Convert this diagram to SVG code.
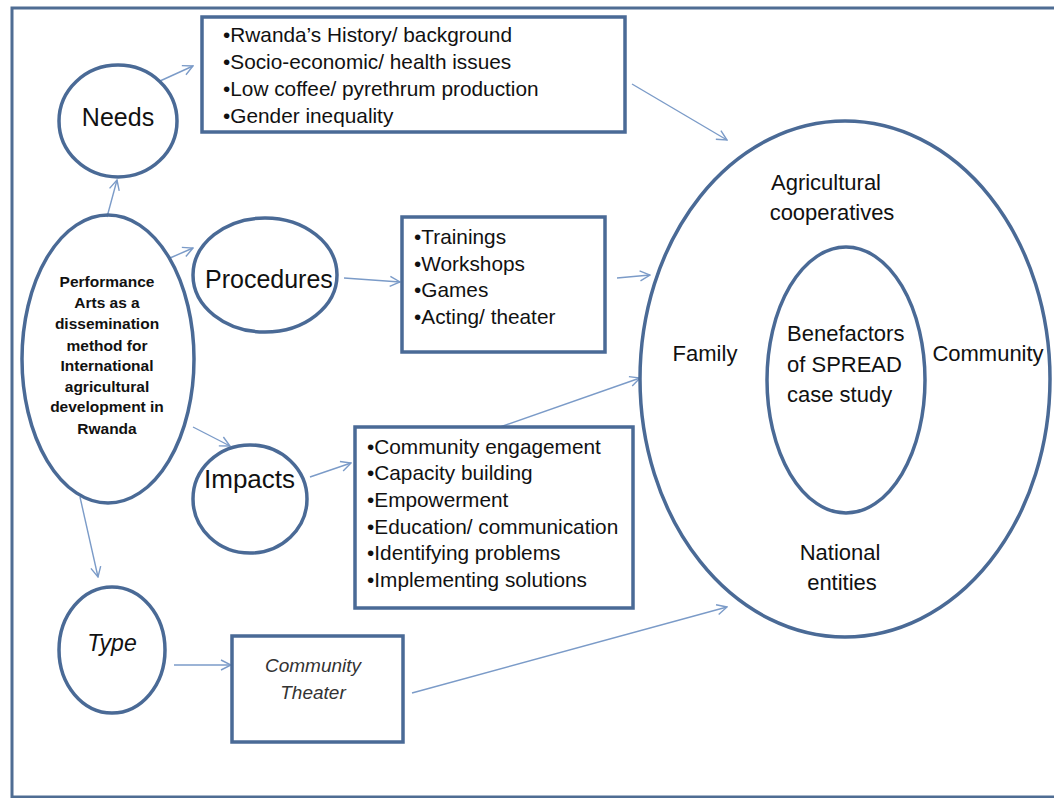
<svg xmlns="http://www.w3.org/2000/svg" width="1054" height="798" viewBox="0 0 1054 798">
<defs>
<marker id="arr" viewBox="0 0 12 12" refX="11" refY="6" markerWidth="12" markerHeight="12" markerUnits="userSpaceOnUse" orient="auto">
<path d="M1,1 L11,6 L1,11" fill="none" stroke="#7b9bc8" stroke-width="1.4"/>
</marker>
<style>
.shape{fill:none;stroke:#4a6a96;stroke-width:3.5}
.conn{fill:none;stroke:#7b9bc8;stroke-width:1.4;marker-end:url(#arr)}
.t{font-family:"Liberation Sans",Arial,sans-serif;fill:#111}
.list{font-size:20.8px}
.big{font-size:22px}
.main{font-size:15.5px;font-weight:bold;text-anchor:middle}
.it{font-style:italic;fill:#333}
.c{text-anchor:middle}
</style>
</defs>
<rect width="1054" height="798" fill="#ffffff"/>
<rect x="12" y="8" width="1060" height="789" fill="none" stroke="#4f6d93" stroke-width="3"/>

<g id="connectors">
<line class="conn" x1="160" y1="81" x2="193" y2="66"/>
<line class="conn" x1="107" y1="217" x2="117" y2="180"/>
<line class="conn" x1="170" y1="258" x2="193" y2="248"/>
<line class="conn" x1="344" y1="278" x2="400" y2="282"/>
<line class="conn" x1="193" y1="427" x2="230" y2="446"/>
<line class="conn" x1="310" y1="477" x2="351" y2="463"/>
<line class="conn" x1="632" y1="84" x2="727" y2="140"/>
<line class="conn" x1="617" y1="278" x2="650" y2="275"/>
<line class="conn" x1="500" y1="427" x2="640" y2="378"/>
<line class="conn" x1="80" y1="497" x2="98" y2="577"/>
<line class="conn" x1="174" y1="665" x2="231" y2="665"/>
<line class="conn" x1="412" y1="693" x2="727" y2="607"/>
</g>

<g id="needs">
<ellipse class="shape" cx="118" cy="121" rx="59" ry="56"/>
<text class="t c" x="118" y="126" font-size="25">Needs</text>
</g>

<g id="needs-box">
<rect class="shape" x="202" y="17" width="423" height="115"/>
<text class="t list" x="223" y="42">•Rwanda’s History/ background</text>
<text class="t list" x="223" y="69">•Socio-economic/ health issues</text>
<text class="t list" x="223" y="96">•Low coffee/ pyrethrum production</text>
<text class="t list" x="223" y="123">•Gender inequality</text>
</g>

<g id="performance-arts">
<ellipse class="shape" cx="108" cy="359" rx="86" ry="144"/>
<text class="t main" x="107" y="287">Performance</text>
<text class="t main" x="107" y="308">Arts as a</text>
<text class="t main" x="107" y="329">dissemination</text>
<text class="t main" x="107" y="351">method for</text>
<text class="t main" x="107" y="371">International</text>
<text class="t main" x="107" y="392">agricultural</text>
<text class="t main" x="107" y="412">development in</text>
<text class="t main" x="107" y="434">Rwanda</text>
</g>

<g id="procedures">
<ellipse class="shape" cx="265" cy="275" rx="72" ry="57"/>
<text class="t" x="205" y="288" font-size="25">Procedures</text>
</g>

<g id="procedures-box">
<rect class="shape" x="402" y="217" width="203" height="135"/>
<text class="t list" x="414" y="244">•Trainings</text>
<text class="t list" x="414" y="271">•Workshops</text>
<text class="t list" x="414" y="297">•Games</text>
<text class="t list" x="414" y="324">•Acting/ theater</text>
</g>

<g id="impacts">
<ellipse class="shape" cx="250" cy="499" rx="57" ry="54"/>
<text class="t" x="204" y="488" font-size="26">Impacts</text>
</g>

<g id="impacts-box">
<rect class="shape" x="355" y="427" width="278" height="181"/>
<text class="t list" x="367" y="454">•Community engagement</text>
<text class="t list" x="367" y="480">•Capacity building</text>
<text class="t list" x="367" y="507">•Empowerment</text>
<text class="t list" x="367" y="534">•Education/ communication</text>
<text class="t list" x="367" y="560">•Identifying problems</text>
<text class="t list" x="367" y="587">•Implementing solutions</text>
</g>

<g id="type">
<ellipse class="shape" cx="112" cy="650" rx="53" ry="63"/>
<text class="t c" x="112" y="651" font-size="23" font-style="italic">Type</text>
</g>

<g id="community-theater">
<rect class="shape" x="232" y="636" width="171" height="106"/>
<text class="t c it" x="313" y="672" font-size="19">Community</text>
<text class="t c it" x="313" y="699" font-size="19">Theater</text>
</g>

<g id="benefactors">
<ellipse class="shape" cx="845" cy="379" rx="205" ry="258"/>
<ellipse class="shape" cx="846" cy="380" rx="79" ry="133"/>
<text class="t big c" x="826" y="190">Agricultural</text>
<text class="t big c" x="832" y="220">cooperatives</text>
<text class="t big c" x="705" y="361">Family</text>
<text class="t big c" x="988" y="361">Community</text>
<text class="t big" x="787" y="341">Benefactors</text>
<text class="t big" x="787" y="372">of SPREAD</text>
<text class="t big" x="787" y="402">case study</text>
<text class="t big c" x="840" y="560">National</text>
<text class="t big c" x="842" y="590">entities</text>
</g>
</svg>
